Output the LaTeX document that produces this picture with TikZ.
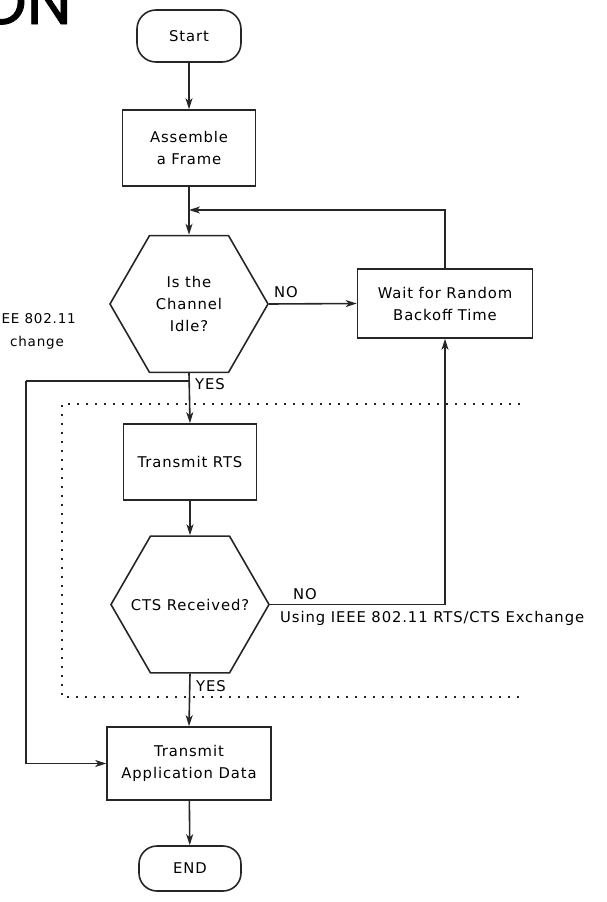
\documentclass[tikz,border=0pt]{standalone}
\usepackage{fontspec}
\setmainfont{DejaVu Sans}[LetterSpace=6]
\newfontfamily\titlefont{Poppins}[FakeBold=1.2]
\usetikzlibrary{shapes.geometric,arrows.meta,calc}

\begin{document}
\begin{tikzpicture}[x=1pt,y=-1pt,
  every node/.style={font=\fontsize{14.8}{22}\selectfont, text=black},
  box/.style={draw=black!85, line width=1.6pt, align=center, inner sep=0pt},
  term/.style={box, rounded corners=19pt},
  hexa/.style={draw=black!85, line width=1.6pt, regular polygon, regular polygon sides=6,
               minimum size=158pt, inner sep=0pt, align=center},
  flow/.style={draw=black!85, line width=1.6pt, -{Stealth[length=11pt,width=7pt,inset=3pt]}},
  link/.style={draw=black!85, line width=1.6pt},
  region/.style={draw=black!85, line width=1.6pt, dash pattern=on 1.6pt off 7.4pt},
  tag/.style={inner sep=0pt},
  sidenote/.style={inner sep=0pt, font=\fontsize{13.5}{20}\selectfont}]
  \useasboundingbox (0,0) rectangle (606,902);
  \clip (0,0) rectangle (606,902);

  % title fragment and side caption
  \node[tag, anchor=base east, font=\titlefont\fontsize{64}{64}\selectfont] (title) at (72,24) {ON};
  \node[sidenote, anchor=east] (side1) at (76,319) {EE 802.11};
  \node[sidenote, anchor=east] (side2) at (64,343) {change};

  % flow nodes (hexagon captions are zero-width so the shapes keep their size)
  \node[term, minimum width=104pt, minimum height=52pt] (start) at (189,36) {Start};
  \node[box, minimum width=133pt, minimum height=76pt] (asm) at (189,148) {Assemble\\a Frame};
  \node[hexa] (idle) at (189,304) {\makebox[0pt]{Is the}\\\makebox[0pt]{Channel}\\\makebox[0pt]{Idle?}};
  \node[box, minimum width=175pt, minimum height=69pt] (wait) at (445,303.5) {Wait for Random\\Backoff Time};
  \node[box, minimum width=133pt, minimum height=76pt] (rts) at (190,462) {Transmit RTS};
  \node[hexa] (cts) at (190,604.5) {\makebox[0pt]{CTS Received?}};
  \node[box, minimum width=164pt, minimum height=73pt] (app) at (189,763.5) {Transmit\\Application Data};
  \node[term, minimum width=102pt, minimum height=45pt, rounded corners=18pt] (end) at (190,868.5) {END};

  % RTS/CTS region
  \draw[region] (520,404) -- (62,404) -- (62,697) -- (520,697);
  \node[tag, anchor=west] (using) at (280,618) {Using IEEE 802.11 RTS/CTS Exchange};

  % junction points
  \coordinate (merge) at (189,210);
  \coordinate (split) at (189,381);
  \coordinate (lft) at (26,381);

  % connectors
  \draw[flow] (start) -- (asm);
  \draw[flow] (asm) -- (idle);
  \draw[flow] (wait.north) |- (merge);
  \draw[flow] (idle.east) -- (wait.west);
  \draw[flow] (idle.south) -- (rts.north);
  \draw[link] (split) -- (lft);
  \draw[flow] (lft) |- (app.west);
  \draw[flow] (rts) -- (cts.north);
  \draw[flow] (cts.east) -| (wait.south);
  \draw[flow] (cts.south) -- (app.north);
  \draw[flow] (app) -- (end);

  % branch labels
  \node[tag] (no1) at (286,292) {NO};
  \node[tag] (yes1) at (210,384) {YES};
  \node[tag] (no2) at (305,594) {NO};
  \node[tag] (yes2) at (211,686) {YES};
\end{tikzpicture}
\end{document}
